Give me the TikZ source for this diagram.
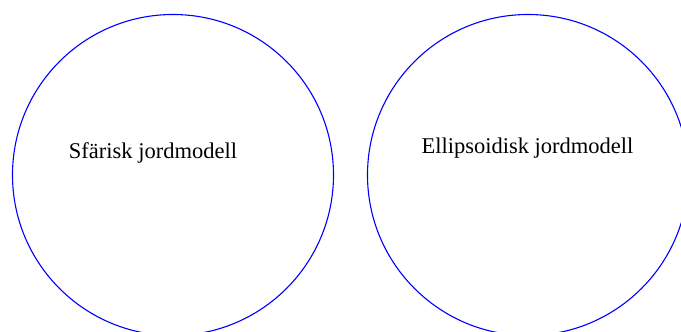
\documentclass[tikz,border=0pt]{standalone}
\usepackage{fontspec}
\setmainfont{Liberation Serif}
\begin{document}
\begin{tikzpicture}[x=1pt,y=-1pt,
  earth/.style={circle,draw=blue,line width=1.1pt,minimum size=321pt,inner sep=0pt},
  lbl/.style={font=\fontsize{22.5}{26}\selectfont,anchor=base,inner sep=0pt}]
\useasboundingbox (0,0) rectangle (681,332);
\clip (0,0) rectangle (681,332);
\node[earth] (sph) at (173,175) {};
\node[earth] (ell) at (528,175) {};
\node[lbl] (sphl) at (153,158) {Sfärisk jordmodell};
\node[lbl] (elll) at (527.5,153) {Ellipsoidisk jordmodell};
\end{tikzpicture}
\end{document}
